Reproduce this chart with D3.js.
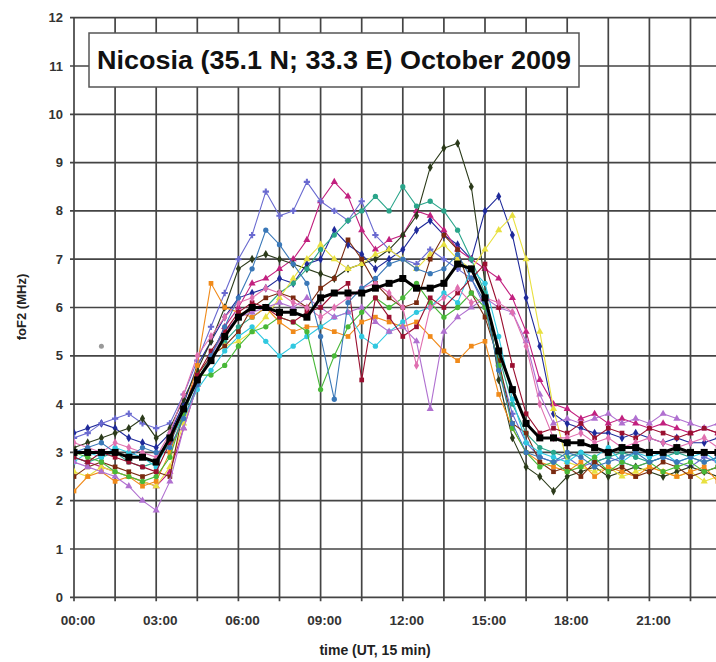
<!DOCTYPE html>
<html>
<head>
<meta charset="utf-8">
<script src="https://cdn.jsdelivr.net/npm/d3@7"></script>
<style>
body { margin: 0; background: #fff; }
text { font-family: "Liberation Sans", Arial, sans-serif; }
</style>
</head>
<body>
<svg id="chart"></svg>
<script>
// half-hour samples, 00:00 .. 24:00 (49 values each)
var hours = d3.range(0, 24.01, 0.5);
var yTicks = d3.range(0, 13);
var xTickLabels = ["00:00", "03:00", "06:00", "09:00", "12:00", "15:00", "18:00", "21:00"];

var median = [3.0,3.0,3.0,3.0,2.9,2.9, 2.8,3.3,3.9,4.5,4.9,5.4, 5.8,6.0,6.0,5.9,5.9,5.8, 6.2,6.3,6.3,6.3,6.4,6.5, 6.6,6.4,6.4,6.5,6.9,6.8, 6.2,5.1,4.3,3.6,3.3,3.3, 3.2,3.2,3.1,3.0,3.1,3.1, 3.0,3.0,3.1,3.0,3.0,3.0, 3.0];
var s1 = [3.4,3.5,3.6,3.5,3.3,3.2, 3.1,3.4,4.0,4.8,5.3,5.8, 6.2,6.3,6.4,6.6,6.5,6.9, 7.0,7.6,7.3,7.1,6.8,7.0, 7.2,7.6,7.8,7.5,7.3,7.0, 8.0,8.3,7.5,6.2,5.2,3.8, 3.6,3.5,3.4,3.4,3.3,3.4, 3.3,3.2,3.3,3.2,3.2,3.3, 3.2];
var s2 = [2.9,2.8,2.7,2.6,2.5,2.4, 2.3,2.6,3.5,4.4,5.0,5.6, 6.0,6.5,6.6,6.8,7.0,7.4, 8.2,8.6,8.3,7.6,7.2,7.4, 7.5,8.0,7.9,7.6,7.2,7.0, 6.8,6.6,6.2,5.5,4.5,4.0, 3.9,3.7,3.8,3.6,3.7,3.6, 3.5,3.6,3.5,3.4,3.5,3.4, 3.4];
var s3 = [3.3,3.4,3.6,3.7,3.8,3.6, 3.5,3.6,4.2,4.9,5.6,6.3, 7.0,7.5,8.4,7.9,8.0,8.6, 8.2,8.0,7.8,8.2,7.5,7.2, 7.0,6.9,7.2,7.0,6.8,6.6, 6.0,4.8,3.8,3.2,2.9,2.8, 2.9,2.7,2.8,2.9,2.8,2.7, 2.8,2.9,2.8,2.7,2.9,2.8, 2.8];
var s4 = [3.1,3.2,3.3,3.4,3.5,3.7, 3.3,3.5,4.1,4.7,5.3,6.0, 6.8,7.0,7.1,7.0,6.9,6.8, 6.7,6.6,6.8,6.9,7.0,7.2, 7.5,7.9,8.9,9.3,9.4,8.5, 6.5,4.5,3.3,2.7,2.5,2.2, 2.5,2.6,2.7,2.5,2.6,2.7, 2.6,2.5,2.6,2.7,2.6,2.5, 2.6];
var s5 = [2.9,2.8,2.9,3.0,2.8,2.7, 2.8,3.2,3.8,4.5,5.0,5.3, 5.6,5.8,6.0,6.3,6.5,6.8, 7.2,7.5,7.8,8.0,8.3,8.0, 8.5,8.1,8.2,8.0,7.6,7.0, 6.3,5.0,4.0,3.4,3.1,3.0, 2.9,3.0,2.8,2.9,3.0,2.9, 2.8,2.9,3.0,2.9,2.8,2.9, 2.9];
var s6 = [2.6,2.5,2.7,2.6,2.5,2.4, 2.3,2.7,3.6,4.4,5.0,5.2, 5.3,5.5,5.8,6.2,6.6,7.0, 7.3,7.0,6.8,6.9,7.1,7.2, 7.0,6.8,7.1,7.3,7.0,6.8, 7.2,7.6,7.9,7.0,5.5,3.9, 2.8,2.7,2.6,2.7,2.5,2.6, 2.7,2.6,2.5,2.6,2.4,2.5, 2.5];
var s7 = [2.2,2.5,2.6,2.4,2.5,2.3, 2.4,3.0,3.8,4.8,6.5,6.0, 5.9,5.8,6.0,5.7,5.5,5.6, 5.6,5.5,5.4,5.7,5.8,5.7, 5.6,5.7,5.4,5.1,4.9,5.2, 5.3,4.2,3.5,3.0,2.8,2.7, 2.6,2.8,2.5,2.7,2.6,2.5, 2.7,2.6,2.5,2.6,2.7,2.4, 2.5];
var s8 = [2.5,2.7,2.8,2.7,2.6,2.5, 2.6,2.5,3.9,4.6,5.0,5.2, 5.5,6.0,6.2,6.3,6.2,6.0, 6.4,6.6,7.4,7.0,6.5,6.2, 6.0,6.1,7.0,7.5,7.2,6.3, 5.8,4.9,3.6,3.4,2.8,2.6, 2.7,2.5,2.8,2.6,2.7,2.5, 2.6,2.8,2.7,2.5,2.6,2.7, 2.6];
var s9 = [2.8,3.0,2.9,3.1,3.0,2.9, 2.7,3.3,3.7,4.3,4.7,5.1, 5.4,5.6,5.3,5.0,5.2,5.4, 5.6,5.8,5.9,5.4,5.2,5.5, 5.7,5.9,6.0,6.3,6.1,6.8, 6.5,5.4,4.1,3.2,3.0,2.9, 2.8,3.0,2.9,3.1,2.8,3.0, 2.9,3.0,2.8,2.9,3.0,2.8, 2.9];
var s10 = [2.8,2.7,2.6,2.5,2.3,2.0, 1.8,2.4,3.5,4.4,5.0,5.5, 5.8,5.9,6.0,6.1,6.0,6.2, 6.0,5.8,5.9,6.0,5.7,5.5, 5.6,5.3,3.9,5.5,5.8,6.0, 6.2,6.0,5.9,5.3,4.2,3.6, 3.7,3.6,3.7,3.8,3.6,3.7, 3.6,3.8,3.7,3.6,3.5,3.6, 3.5];
var s11 = [3.0,2.9,2.8,2.6,2.5,2.4, 2.5,2.9,3.8,4.6,4.6,4.8, 5.2,5.5,5.6,5.8,5.7,5.5, 4.3,5.0,5.6,5.9,6.2,6.0, 6.2,6.5,6.1,5.8,6.0,6.3, 6.0,4.8,3.5,3.0,2.7,2.8, 2.6,2.7,2.9,2.6,2.8,2.7, 2.8,2.6,2.7,2.8,2.6,2.7, 2.7];
var s12 = [2.9,2.8,3.0,2.9,2.8,2.7, 2.6,3.2,3.9,4.6,5.1,5.5, 5.9,6.1,6.0,5.8,5.7,5.9, 6.0,6.3,6.5,4.5,6.2,5.8, 5.4,5.6,6.2,6.0,6.3,6.6, 6.9,6.0,4.8,3.8,3.4,3.5, 3.4,3.6,3.3,3.5,3.4,3.3, 3.5,3.4,3.3,3.4,3.5,3.4, 3.4];
var s13 = [3.2,3.1,3.0,3.2,3.1,3.0, 2.9,3.4,4.2,5.0,5.4,5.8, 6.1,6.2,6.4,6.3,6.1,6.0, 5.8,6.0,6.2,6.4,6.5,6.3, 6.0,4.8,6.0,6.2,6.4,6.1, 6.2,6.1,5.9,5.2,4.0,3.3, 3.3,3.4,3.2,3.3,3.1,3.2, 3.3,3.2,3.1,3.2,3.3,3.1, 3.2];
var s14 = [3.0,3.1,3.2,3.0,2.9,3.1, 3.0,3.1,3.7,4.4,5.0,5.6, 6.2,6.8,7.6,7.3,6.9,6.5, 5.4,4.1,6.1,6.4,6.6,6.9, 7.0,6.8,6.7,6.8,7.1,6.6, 6.1,4.7,3.6,3.0,2.9,2.8, 3.0,2.9,2.7,2.8,2.9,3.0, 2.8,2.9,2.8,2.9,2.8,2.9, 2.8];
var outlierHours = [1.0];
var outlierValues = [5.2];

var seriesList = [s1, s2, s3, s4, s5, s6, s7, s8, s9, s10, s11, s12, s13, s14];
var seriesColors = ["#1f2a9a", "#c2207f", "#6a6ad0", "#2b3a1a", "#2aa58a", "#e8e040", "#f08a1a",
                    "#7a2a10", "#30c8e0", "#b070d0", "#48b838", "#9a1030", "#e070b0", "#3a78b8"];
var seriesShapes = [d3.symbolDiamond, d3.symbolTriangle, d3.symbolCross, d3.symbolDiamond, d3.symbolCircle,
                    d3.symbolTriangle, d3.symbolSquare, d3.symbolSquare, d3.symbolCircle, d3.symbolTriangle,
                    d3.symbolCircle, d3.symbolSquare, d3.symbolDiamond, d3.symbolCircle];

var width = 716, height = 662;
var svg = d3.select("#chart").attr("width", width).attr("height", height);

var x = d3.scaleLinear().domain([0, 24]).range([74, 731.6]);
var y = d3.scaleLinear().domain([0, 12]).range([597.3, 17.7]);

// grid
svg.append("g").selectAll("line").data(d3.range(0, 24.01, 1.5)).enter().append("line")
    .attr("x1", function (d) { return x(d); }).attr("x2", function (d) { return x(d); })
    .attr("y1", y(12)).attr("y2", y(0) + 4)
    .attr("stroke", "#444").attr("stroke-width", 1.7);
svg.append("g").selectAll("line").data(yTicks).enter().append("line")
    .attr("x1", x(0) - 4).attr("x2", width)
    .attr("y1", function (d) { return y(d); }).attr("y2", function (d) { return y(d); })
    .attr("stroke", "#444").attr("stroke-width", 1.7);

// tick labels
svg.append("g").selectAll("text").data(yTicks).enter().append("text")
    .attr("x", 63).attr("y", function (d) { return y(d) + 4.5; })
    .attr("text-anchor", "end").attr("font-size", 13).attr("font-weight", "bold").attr("fill", "#333")
    .text(function (d) { return d; });
svg.append("g").selectAll("text").data(xTickLabels).enter().append("text")
    .attr("x", function (d, i) { return x(i * 3) + 4; }).attr("y", 625)
    .attr("text-anchor", "middle").attr("font-size", 13.5).attr("font-weight", "bold").attr("fill", "#333")
    .text(function (d) { return d; });

svg.append("text").attr("x", 375).attr("y", 655).attr("text-anchor", "middle")
    .attr("font-size", 14).attr("font-weight", "bold").attr("fill", "#222").text("time (UT, 15 min)");
svg.append("text").attr("transform", "translate(26,307) rotate(-90)").attr("text-anchor", "middle")
    .attr("font-size", 13).attr("font-weight", "bold").attr("fill", "#222").text("foF2 (MHz)");

svg.append("clipPath").attr("id", "plot").append("rect")
    .attr("x", x(0)).attr("y", y(12)).attr("width", width - x(0)).attr("height", y(0) - y(12));

var plot = svg.append("g").attr("clip-path", "url(#plot)");
var line = d3.line().x(function (d, i) { return x(hours[i]); }).y(function (d) { return y(d); });

seriesList.forEach(function (s, k) {
    plot.append("path").datum(s).attr("d", line)
        .attr("fill", "none").attr("stroke", seriesColors[k]).attr("stroke-width", 1.1);
    plot.append("g").selectAll("path").data(s).enter().append("path")
        .attr("d", d3.symbol().type(seriesShapes[k]).size(22))
        .attr("transform", function (d, i) { return "translate(" + x(hours[i]) + "," + y(d) + ")"; })
        .attr("fill", seriesColors[k]);
});

plot.selectAll(".outlier").data(outlierValues).enter().append("circle")
    .attr("cx", function (d, i) { return x(outlierHours[i]); }).attr("cy", function (d) { return y(d); })
    .attr("r", 2.5).attr("fill", "#999");

plot.append("path").datum(median).attr("d", line)
    .attr("fill", "none").attr("stroke", "#000").attr("stroke-width", 3);
plot.append("g").selectAll("rect").data(median).enter().append("rect")
    .attr("x", function (d, i) { return x(hours[i]) - 3.5; })
    .attr("y", function (d) { return y(d) - 3.5; })
    .attr("width", 7).attr("height", 7).attr("fill", "#000");

// title box
svg.append("rect").attr("x", 89).attr("y", 33).attr("width", 490).attr("height", 54)
    .attr("fill", "#fff").attr("stroke", "#555").attr("stroke-width", 1.5);
svg.append("text").attr("x", 97).attr("y", 69)
    .attr("font-size", 25).attr("font-weight", "bold").attr("fill", "#111")
    .attr("textLength", 474).attr("lengthAdjust", "spacingAndGlyphs")
    .text("Nicosia (35.1 N; 33.3 E) October 2009");
</script>
</body>
</html>
